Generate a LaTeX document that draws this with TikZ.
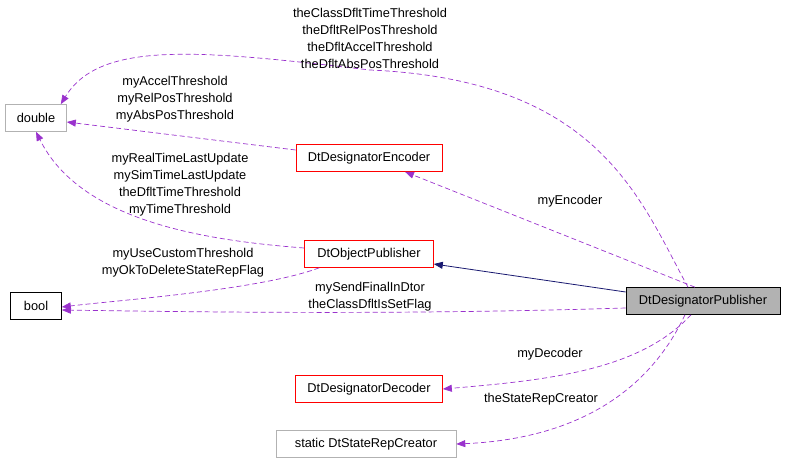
\documentclass[tikz,border=0pt]{standalone}
\usepackage{fontspec}
\setmainfont{Liberation Sans}
\usetikzlibrary{arrows.meta,calc}
\definecolor{usecol}{HTML}{9A32CD}
\definecolor{inhcol}{HTML}{191970}
\begin{document}
\begin{tikzpicture}[x=1pt,y=-1pt,font=\fontsize{12.8}{15}\selectfont,
  box/.style={draw,rectangle,inner sep=0pt,minimum height=27pt,line width=0.6pt},
  red box/.style={box,draw=red},
  gray box/.style={box,draw=gray!60},
  use/.style={-{Triangle[length=9pt,width=7pt]},usecol,dashed,dash pattern=on 5pt off 3pt,line width=0.7pt},
  inh/.style={-{Triangle[length=9pt,width=7pt]},inhcol,line width=0.8pt},
  lab/.style={align=center,inner sep=0pt,font=\fontsize{12.8}{17}\selectfont}]
\useasboundingbox (0,0) rectangle (787,464);
\node[gray box,minimum width=61pt] (double) at (36,118) {double};
\node[box,minimum width=51pt] (bool) at (36,306) {bool};
\node[red box,minimum width=146pt] (enc) at (369,158) {DtDesignatorEncoder};
\node[red box,minimum width=129pt] (objpub) at (369,254) {DtObjectPublisher};
\node[box,fill=gray!60,minimum width=154pt] (pub) at (703,301) {DtDesignatorPublisher};
\node[red box,minimum width=147pt] (dec) at (369,389) {DtDesignatorDecoder};
\node[gray box,minimum width=180pt] (state) at (366,444) {static DtStateRepCreator};

\draw[inh] ($(pub.west)+(0,-9)$) -- (objpub.east |- 0,264);
\draw[use] ($(pub.north)+(-15,0)$) .. controls (640,200) and (600,80) .. (370,70)
  .. controls (200,50) and (100,40) .. ($(double.north east)+(-6,0)$);
\draw[use] ($(enc.west)+(0,-8)$) -- ($(double.east)+(0,4)$);
\draw[use] ($(objpub.west)+(0,-6)$) .. controls (200,240) and (80,220) .. (double.south);
\draw[use] ($(objpub.south west)+(15,0)$) .. controls (260,290) and (120,300) .. ($(bool.east)+(0,1)$);
\draw[use] ($(pub.west)+(0,7)$) .. controls (400,315) and (200,312) .. ($(bool.east)+(0,4)$);
\draw[use] ($(pub.north)+(-8,0)$) -- ($(enc.south)+(36,0)$);
\draw[use] ($(pub.south)+(-12,0)$) .. controls (640,370) and (550,380) .. (dec.east);
\draw[use] ($(pub.south)+(-18,0)$) .. controls (640,410) and (550,440) .. (state.east);

\node[lab] at (370,38) {theClassDfltTimeThreshold\\theDfltRelPosThreshold\\theDfltAccelThreshold\\theDfltAbsPosThreshold};
\node[lab] at (175,99) {myAccelThreshold\\myRelPosThreshold\\myAbsPosThreshold};
\node[lab] at (180,185) {myRealTimeLastUpdate\\mySimTimeLastUpdate\\theDfltTimeThreshold\\myTimeThreshold};
\node[lab] at (183,263) {myUseCustomThreshold\\myOkToDeleteStateRepFlag};
\node[lab] at (370,297) {mySendFinalInDtor\\theClassDfltIsSetFlag};
\node[lab] at (570,201) {myEncoder};
\node[lab] at (550,354) {myDecoder};
\node[lab] at (541,399) {theStateRepCreator};
\end{tikzpicture}
\end{document}
